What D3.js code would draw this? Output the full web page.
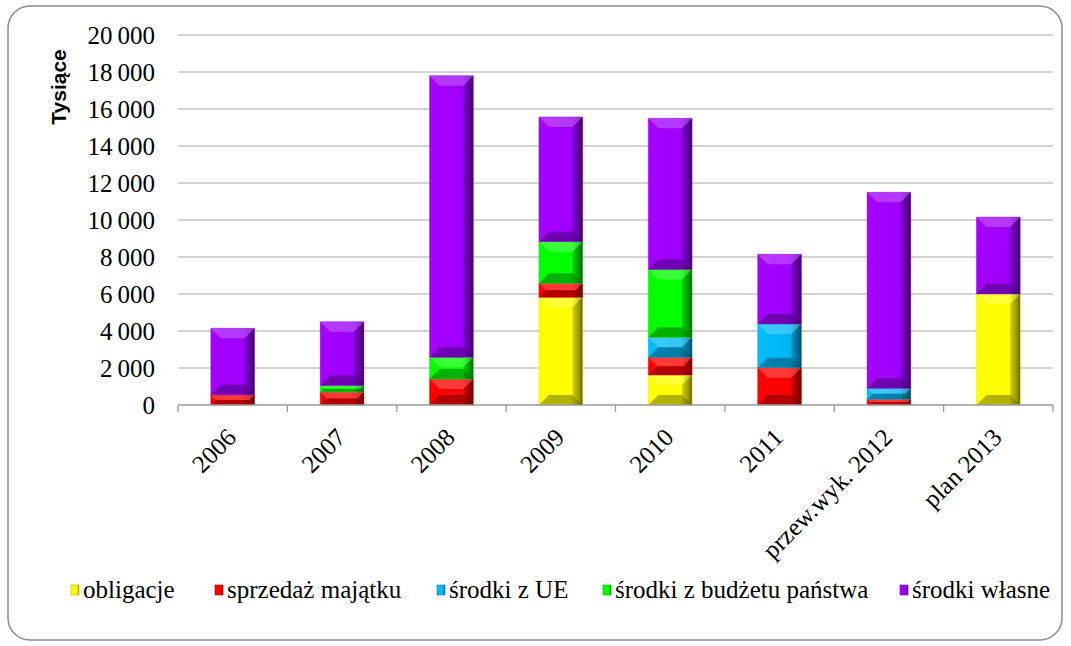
<!DOCTYPE html>
<html>
<head>
<meta charset="utf-8">
<script src="https://cdn.jsdelivr.net/npm/d3@7"></script>
<style>
  body { margin: 0; background: #fff; }
  svg { display: block; }
</style>
</head>
<body>
<svg id="chart" width="1071" height="646"></svg>
<script>
const categories = ['2006', '2007', '2008', '2009', '2010', '2011', 'przew.wyk. 2012', 'plan 2013']
const seriesNames = ['obligacje', 'sprzedaż majątku', 'środki z UE', 'środki z budżetu państwa', 'środki własne']
const obligacje = [0, 0, 0, 5820, 1620, 0, 0, 6000]
const sprzedaz = [550, 700, 1400, 760, 960, 2020, 310, 0]
const srodkiUE = [0, 0, 0, 0, 1080, 2360, 590, 0]
const budzet = [0, 350, 1180, 2250, 3670, 0, 0, 0]
const wlasne = [3600, 3450, 15220, 6740, 8170, 3770, 10600, 4160]
const yTicks = [0, 2000, 4000, 6000, 8000, 10000, 12000, 14000, 16000, 18000, 20000]

const colors = ['#ffff00', '#ff0000', '#00b4f0', '#00ff00', '#9d00ff']
const allSeries = [obligacje, sprzedaz, srodkiUE, budzet, wlasne]
const serif = "'Liberation Serif', 'Times New Roman', serif"

const svg = d3.select('#chart')

// frame
svg.append('rect')
  .attr('x', 8).attr('y', 6).attr('width', 1054).attr('height', 634)
  .attr('rx', 22).attr('ry', 22)
  .attr('fill', '#fff').attr('stroke', '#8c8c8c').attr('stroke-width', 1.5)

const plotLeft = 178, plotRight = 1053, plotTop = 35, plotBottom = 405

const x = d3.scaleBand().domain(categories).range([plotLeft, plotRight]).paddingInner(0.6).paddingOuter(0.3)
const y = d3.scaleLinear().domain([0, 20000]).range([plotBottom, plotTop])

// grid
svg.append('g')
  .selectAll('line')
  .data(yTicks.slice(1))
  .join('line')
  .attr('x1', plotLeft).attr('x2', plotRight)
  .attr('y1', (d) => y(d)).attr('y2', (d) => y(d))
  .attr('stroke', '#c4c4c4').attr('stroke-width', 1.3)

// y labels
const fmt = (d) => d3.format(',')(d).replace(',', '\u2009')
svg.append('g')
  .selectAll('text')
  .data(yTicks)
  .join('text')
  .attr('x', 155).attr('y', (d) => y(d) + 8.5)
  .attr('text-anchor', 'end')
  .attr('font-family', serif)
  .attr('font-size', 25)
  .attr('fill', '#000')
  .text(fmt)

svg.append('text')
  .attr('transform', 'translate(66,87) rotate(-90)')
  .attr('text-anchor', 'middle')
  .attr('font-family', "'Liberation Sans', Arial, sans-serif")
  .attr('font-weight', 'bold')
  .attr('font-size', 21)
  .text('Tysiące')

// stacked data
const rows = categories.map((c, i) => {
  const r = { cat: c }
  seriesNames.forEach((s, j) => { r[s] = allSeries[j][i] })
  return r
})
const stacked = d3.stack().keys(seriesNames)(rows)

// gradients per colour
const defs = svg.append('defs')
colors.forEach((c, i) => {
  const g = defs.append('linearGradient').attr('id', 'g' + i).attr('x1', 0).attr('x2', 1).attr('y1', 0).attr('y2', 0)
  g.append('stop').attr('offset', '0%').attr('stop-color', d3.color(c).brighter(0.15))
  g.append('stop').attr('offset', '75%').attr('stop-color', c)
  g.append('stop').attr('offset', '92%').attr('stop-color', d3.color(c).darker(1))
  g.append('stop').attr('offset', '100%').attr('stop-color', d3.color(c).darker(2.2))
})

const barsG = svg.append('g')
stacked.forEach((layer, si) => {
  layer.forEach((d) => {
    const h = y(d[0]) - y(d[1])
    if (h <= 0.1) return
    const x0 = x(d.data.cat)
    const w = x.bandwidth()
    const y0 = y(d[1])
    const b = Math.min(10, h / 2, w / 2)
    const g = barsG.append('g')
    g.append('rect')
      .attr('x', x0).attr('y', y0).attr('width', w).attr('height', h)
      .attr('fill', `url(#g${si})`)
    // top bevel
    g.append('polygon')
      .attr('points', [[x0, y0], [x0 + w, y0], [x0 + w - b, y0 + b], [x0 + b, y0 + b]].join(' '))
      .attr('fill', '#fff').attr('opacity', 0.22)
    // bottom bevel
    g.append('polygon')
      .attr('points', [[x0, y0 + h], [x0 + w, y0 + h], [x0 + w - b, y0 + h - b], [x0 + b, y0 + h - b]].join(' '))
      .attr('fill', '#000').attr('opacity', 0.3)
    // right bevel
    g.append('polygon')
      .attr('points', [[x0 + w, y0], [x0 + w, y0 + h], [x0 + w - b, y0 + h - b], [x0 + w - b, y0 + b]].join(' '))
      .attr('fill', '#000').attr('opacity', 0.15)
    g.append('rect')
      .attr('x', x0).attr('y', y0).attr('width', w).attr('height', h)
      .attr('fill', 'none').attr('stroke', d3.color(colors[si]).darker(0.3)).attr('stroke-opacity', 0.5).attr('stroke-width', 0.8)
  })
})

// x axis
const xAxis = svg.append('g')
xAxis.append('line')
  .attr('x1', plotLeft).attr('x2', plotRight).attr('y1', plotBottom).attr('y2', plotBottom)
  .attr('stroke', '#9a9a9a').attr('stroke-width', 1.3)
const tickPos = categories.map((c) => x(c) - x.step() * x.paddingInner() / 2).concat([plotRight])
xAxis.selectAll('line.tick')
  .data(tickPos)
  .join('line')
  .attr('class', 'tick')
  .attr('x1', (d) => d).attr('x2', (d) => d)
  .attr('y1', plotBottom).attr('y2', plotBottom + 7)
  .attr('stroke', '#9a9a9a').attr('stroke-width', 1.3)

xAxis.selectAll('text')
  .data(categories)
  .join('text')
  .attr('transform', (d) => `translate(${x(d) + x.bandwidth() / 2 + 5},${plotBottom + 34}) rotate(-45)`)
  .attr('text-anchor', 'end')
  .attr('font-family', serif)
  .attr('font-size', 25)
  .text((d) => d)

// legend
const legendX = [71, 215, 437, 603, 900]
const legend = svg.append('g')
seriesNames.forEach((s, i) => {
  const g = legend.append('g').attr('transform', `translate(${legendX[i]},0)`)
  g.append('rect')
    .attr('x', 0).attr('y', 585).attr('width', 8).attr('height', 10)
    .attr('fill', `url(#g${i})`)
    .attr('stroke', d3.color(colors[i]).darker(1)).attr('stroke-width', 0.6)
  g.append('text')
    .attr('x', 12).attr('y', 598)
    .attr('font-family', serif)
    .attr('font-size', 25)
    .text(s)
})
</script>
</body>
</html>
